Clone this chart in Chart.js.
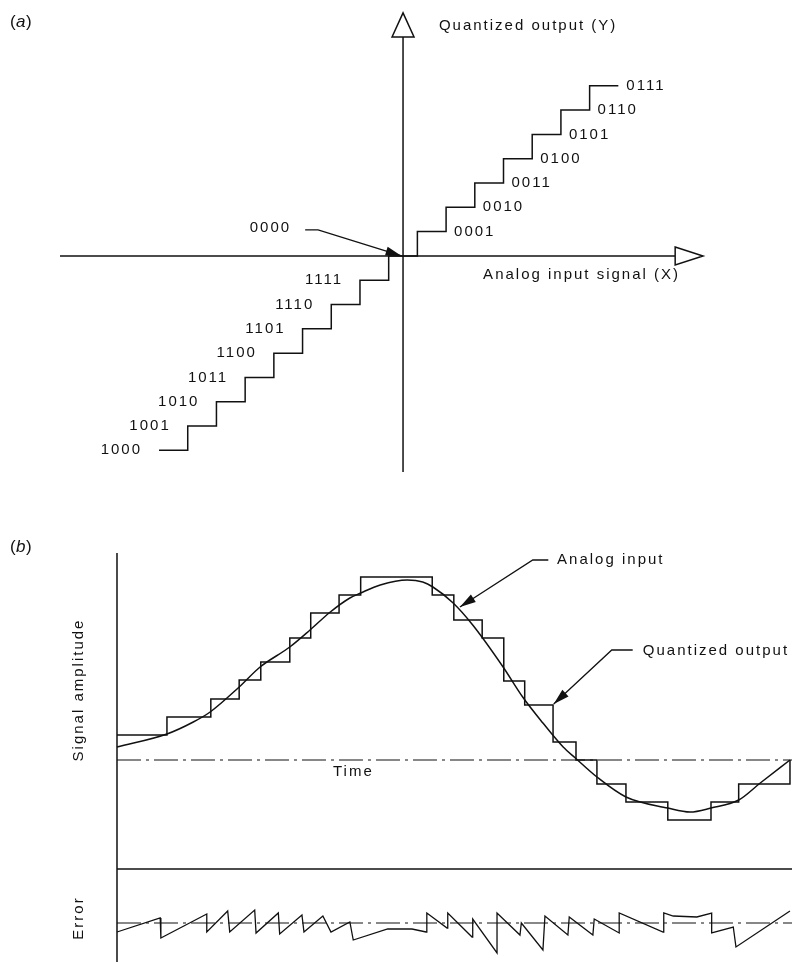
<!DOCTYPE html>
<html>
<head>
<meta charset="utf-8">
<script src="https://cdn.jsdelivr.net/npm/chart.js@4.4.0/dist/chart.umd.min.js"></script>
<style>
  body { margin: 0; background: #fff; }
  canvas { position: absolute; left: 0; }
</style>
</head>
<body>
<canvas id="chart_a" width="792" height="480" style="top:0"></canvas>
<canvas id="chart_b" width="792" height="482" style="top:480px"></canvas>
<script>
// ---- panel (a): 4-bit quantizer transfer function (input in steps of one LSB)
const stepX = [-8.5, -7.5, -6.5, -5.5, -4.5, -3.5, -2.5, -1.5, -0.5, 0.5, 1.5, 2.5, 3.5, 4.5, 5.5, 6.5, 7.5];
const stepY = [-8, -7, -6, -5, -4, -3, -2, -1, 0, 1, 2, 3, 4, 5, 6, 7, 7];
const levels = [-8, -7, -6, -5, -4, -3, -2, -1, 0, 1, 2, 3, 4, 5, 6, 7];
const codes = ["1000", "1001", "1010", "1011", "1100", "1101", "1110", "1111",
               "0000", "0001", "0010", "0011", "0100", "0101", "0110", "0111"];

// ---- panel (b): time 0..100, amplitude and error in arbitrary units
const quantT = [0, 7.4, 13.9, 18.1, 21.3, 25.6, 28.7, 32.9, 36.1, 46.7, 49.9, 54.1, 57.3, 60.4, 64.6, 68.0, 71.1, 75.4, 81.6, 88.0, 92.1, 99.7];
const quantA = [2.5, 4.3, 6.1, 8.0, 9.8, 12.2, 14.7, 16.5, 18.3, 16.5, 14.0, 12.2, 7.9, 5.5, 1.8, 0, -2.4, -4.2, -6.0, -4.2, -2.4, 0];

const analogT = [0, 7.4, 11.3, 13.8, 18.1, 21.2, 25.6, 28.6, 31.6, 34.5, 36.1, 39.0, 43.0, 45.3, 46.8, 49.8, 52.7, 57.2, 60.1, 63.1, 66.1, 67.9, 71.1, 75.4, 81.6, 84.9, 88.0, 92.1, 95.3, 99.7];
const analogA = [1.3, 2.6, 3.8, 4.8, 7.3, 9.3, 11.3, 13.0, 14.8, 16.2, 16.7, 17.5, 18.0, 17.8, 17.3, 15.7, 13.5, 9.3, 6.3, 3.7, 1.3, 0.2, -1.7, -3.7, -4.8, -5.2, -4.8, -4.0, -2.3, 0];

const errorT = [0, 6.4, 6.5, 13.3, 13.3, 16.4, 16.7, 20.4, 20.6, 23.9, 24.1, 27.4, 27.7, 30.5, 31.7, 34.5, 35.0, 40.1, 43.7, 45.8,
                45.9, 48.9, 49.0, 52.6, 52.7, 56.3, 56.3, 59.7, 59.9, 63.1, 63.4, 66.8, 67.0, 70.5, 70.7, 74.4, 74.4, 80.9,
                81.0, 82.4, 85.9, 88.1, 88.1, 91.3, 91.7, 99.7];
const errorE = [-0.9, 0.5, -1.5, 0.9, -0.9, 1.2, -0.9, 1.3, -1.0, 1.0, -1.1, 0.8, -0.9, 0.7, -0.9, 0.1, -1.7, -0.6, -0.6, -0.9,
                1.0, -0.5, 1.0, -1.4, 0.4, -3.0, 1.0, -1.2, 0.0, -2.7, 0.7, -1.2, 0.6, -1.2, 0.4, -1.0, 1.0, -0.9,
                1.0, 0.7, 0.6, 1.0, -1.0, -0.4, -2.4, 1.2];

const FONT = '15px "Liberation Sans", Arial, Helvetica, sans-serif';
const INK = "#111";

function pts(xs, ys) {
    return xs.map((v, i) => ({ x: v, y: ys[i] }));
}

function baseOptions(xMin, xMax, yMin, yMax, extraScales) {
    return {
        responsive: false,
        animation: false,
        devicePixelRatio: 1,
        layout: { padding: 0 },
        elements: { point: { radius: 0, hoverRadius: 0 } },
        plugins: { legend: { display: false }, tooltip: { enabled: false } },
        scales: Object.assign({
            x: { type: "linear", display: false, min: xMin, max: xMax },
            y: { type: "linear", display: false, min: yMin, max: yMax }
        }, extraScales || {})
    };
}

function lineSet(data, extra) {
    return Object.assign({ data, showLine: true, borderColor: INK, borderWidth: 1.5, fill: false }, extra || {});
}

function arrowHead(ctx, x0, y0, x1, y1, len, half) {
    const a = Math.atan2(y1 - y0, x1 - x0);
    ctx.beginPath();
    ctx.moveTo(x1, y1);
    ctx.lineTo(x1 - len * Math.cos(a) + half * Math.sin(a), y1 - len * Math.sin(a) - half * Math.cos(a));
    ctx.lineTo(x1 - len * Math.cos(a) - half * Math.sin(a), y1 - len * Math.sin(a) + half * Math.cos(a));
    ctx.closePath();
    ctx.fill();
}

function text(ctx, s, px, py, align) {
    ctx.textAlign = align || "left";
    ctx.fillText(s, px, py);
}

// ---------------- panel (a)
const axisX = [{ x: -11.95, y: 0 }, { x: 9.48, y: 0 }];
const axisY = [{ x: 0, y: -8.89 }, { x: 0, y: 9.01 }];
const zeroLeader = [{ x: -3.41, y: 1.07 }, { x: -2.96, y: 1.07 }, { x: -0.05, y: 0 }];

const panelADecor = {
    id: "panelADecor",
    afterDatasetsDraw(chart) {
        const { ctx, scales: { x, y } } = chart;
        const X = v => x.getPixelForValue(v), Y = v => y.getPixelForValue(v);
        ctx.save();
        ctx.strokeStyle = INK;
        ctx.fillStyle = INK;
        ctx.lineWidth = 1.5;

        // open arrow heads on the axes
        ctx.fillStyle = "#fff";
        ctx.beginPath();
        ctx.moveTo(X(9.48), Y(0) - 9);
        ctx.lineTo(X(10.45), Y(0));
        ctx.lineTo(X(9.48), Y(0) + 9);
        ctx.closePath();
        ctx.fill(); ctx.stroke();
        ctx.beginPath();
        ctx.moveTo(X(0) - 11, Y(9.01));
        ctx.lineTo(X(0), Y(10.0));
        ctx.lineTo(X(0) + 11, Y(9.01));
        ctx.closePath();
        ctx.fill(); ctx.stroke();

        // filled arrow on the 0000 leader
        ctx.fillStyle = INK;
        const l = zeroLeader;
        arrowHead(ctx, X(l[1].x), Y(l[1].y), X(l[2].x), Y(l[2].y), 16, 4.5);

        ctx.font = FONT;
        ctx.letterSpacing = "2px";
        ctx.textBaseline = "middle";
        levels.forEach((lv, i) => {
            if (lv < 0) text(ctx, codes[i], X(stepX[i]) - 17, Y(lv), "right");
            else if (lv > 0) text(ctx, codes[i], X(stepX[i + 1]) + 8, Y(lv), "left");
        });
        text(ctx, codes[8], X(l[0].x) - 14, Y(l[0].y) - 2, "right");
        text(ctx, "Quantized output (Y)", X(1.25), Y(9.47), "left");
        text(ctx, "Analog input signal (X)", X(2.79), Y(-0.78), "left");

        ctx.font = '17px "Liberation Sans", Arial, sans-serif';
        ctx.letterSpacing = "0px";
        ctx.textAlign = "left";
        ctx.fillText("(", 10, 22);
        ctx.font = 'italic 17px "Liberation Sans", Arial, sans-serif';
        ctx.fillText("a", 16, 22);
        ctx.font = '17px "Liberation Sans", Arial, sans-serif';
        ctx.fillText(")", 26, 22);
        ctx.restore();
    }
};

new Chart(document.getElementById("chart_a"), {
    type: "scatter",
    data: {
        datasets: [
            lineSet(axisX),
            lineSet(axisY),
            lineSet(pts(stepX, stepY), { stepped: "before" }),
            lineSet(zeroLeader, { borderWidth: 1.3 })
        ]
    },
    options: baseOptions(-14.04, 13.55, -9.22, 10.53),
    plugins: [panelADecor]
});

// ---------------- panel (b)
const axisB = [{ x: 0, y: 20.7 }, { x: 0, y: -20.2 }];
const dividerB = [{ x: 0, y: -10.9 }, { x: 100, y: -10.9 }];
const timeLine = [{ x: 0, y: 0 }, { x: 100, y: 0 }];
const errorZero = [{ x: 0, y: 0 }, { x: 100, y: 0 }];
const analogLeader = [{ x: 63.9, y: 20.0 }, { x: 61.6, y: 20.0 }, { x: 50.8, y: 15.3 }];
const quantLeader = [{ x: 76.4, y: 11.0 }, { x: 73.3, y: 11.0 }, { x: 64.7, y: 5.6 }];
const DASHDOT = [24, 5, 3, 5];

const panelBDecor = {
    id: "panelBDecor",
    afterDatasetsDraw(chart) {
        const { ctx, scales: { x, y, y2 } } = chart;
        const X = v => x.getPixelForValue(v), Y = v => y.getPixelForValue(v);
        ctx.save();
        ctx.fillStyle = INK;
        [analogLeader, quantLeader].forEach(l => {
            arrowHead(ctx, X(l[1].x), Y(l[1].y), X(l[2].x), Y(l[2].y), 16, 4.5);
        });

        ctx.font = FONT;
        ctx.letterSpacing = "2px";
        ctx.textBaseline = "middle";
        text(ctx, "Analog input", X(65.2), Y(20.0), "left");
        text(ctx, "Quantized output", X(77.9), Y(10.9), "left");
        text(ctx, "Time", X(32.0), Y(-1.2), "left");

        ctx.save();
        ctx.translate(X(-5.6), Y(7.0));
        ctx.rotate(-Math.PI / 2);
        text(ctx, "Signal amplitude", 0, 0, "center");
        ctx.restore();
        ctx.save();
        ctx.translate(X(-5.6), y2.getPixelForValue(0.5));
        ctx.rotate(-Math.PI / 2);
        text(ctx, "Error", 0, 0, "center");
        ctx.restore();

        ctx.font = '17px "Liberation Sans", Arial, sans-serif';
        ctx.letterSpacing = "0px";
        ctx.textAlign = "left";
        const by = Y(21.3);
        ctx.fillText("(", 10, by);
        ctx.font = 'italic 17px "Liberation Sans", Arial, sans-serif';
        ctx.fillText("b", 16, by);
        ctx.font = '17px "Liberation Sans", Arial, sans-serif';
        ctx.fillText(")", 26, by);
        ctx.restore();
    }
};

new Chart(document.getElementById("chart_b"), {
    type: "scatter",
    data: {
        datasets: [
            lineSet(axisB),
            lineSet(dividerB),
            lineSet(timeLine, { borderWidth: 1.2, borderDash: DASHDOT }),
            lineSet(errorZero, { borderWidth: 1.2, borderDash: DASHDOT, yAxisID: "y2" }),
            lineSet(pts(quantT, quantA), { stepped: "before" }),
            lineSet(pts(analogT, analogA), { cubicInterpolationMode: "monotone" }),
            lineSet(pts(errorT, errorE), { yAxisID: "y2", borderWidth: 1.3 }),
            lineSet(analogLeader, { borderWidth: 1.3 }),
            lineSet(quantLeader, { borderWidth: 1.3 })
        ]
    },
    options: baseOptions(-17.333, 100, -20.2, 28.0, {
        y2: { type: "linear", display: false, min: -3.9, max: 44.3 }
    }),
    plugins: [panelBDecor]
});
</script>
</body>
</html>
